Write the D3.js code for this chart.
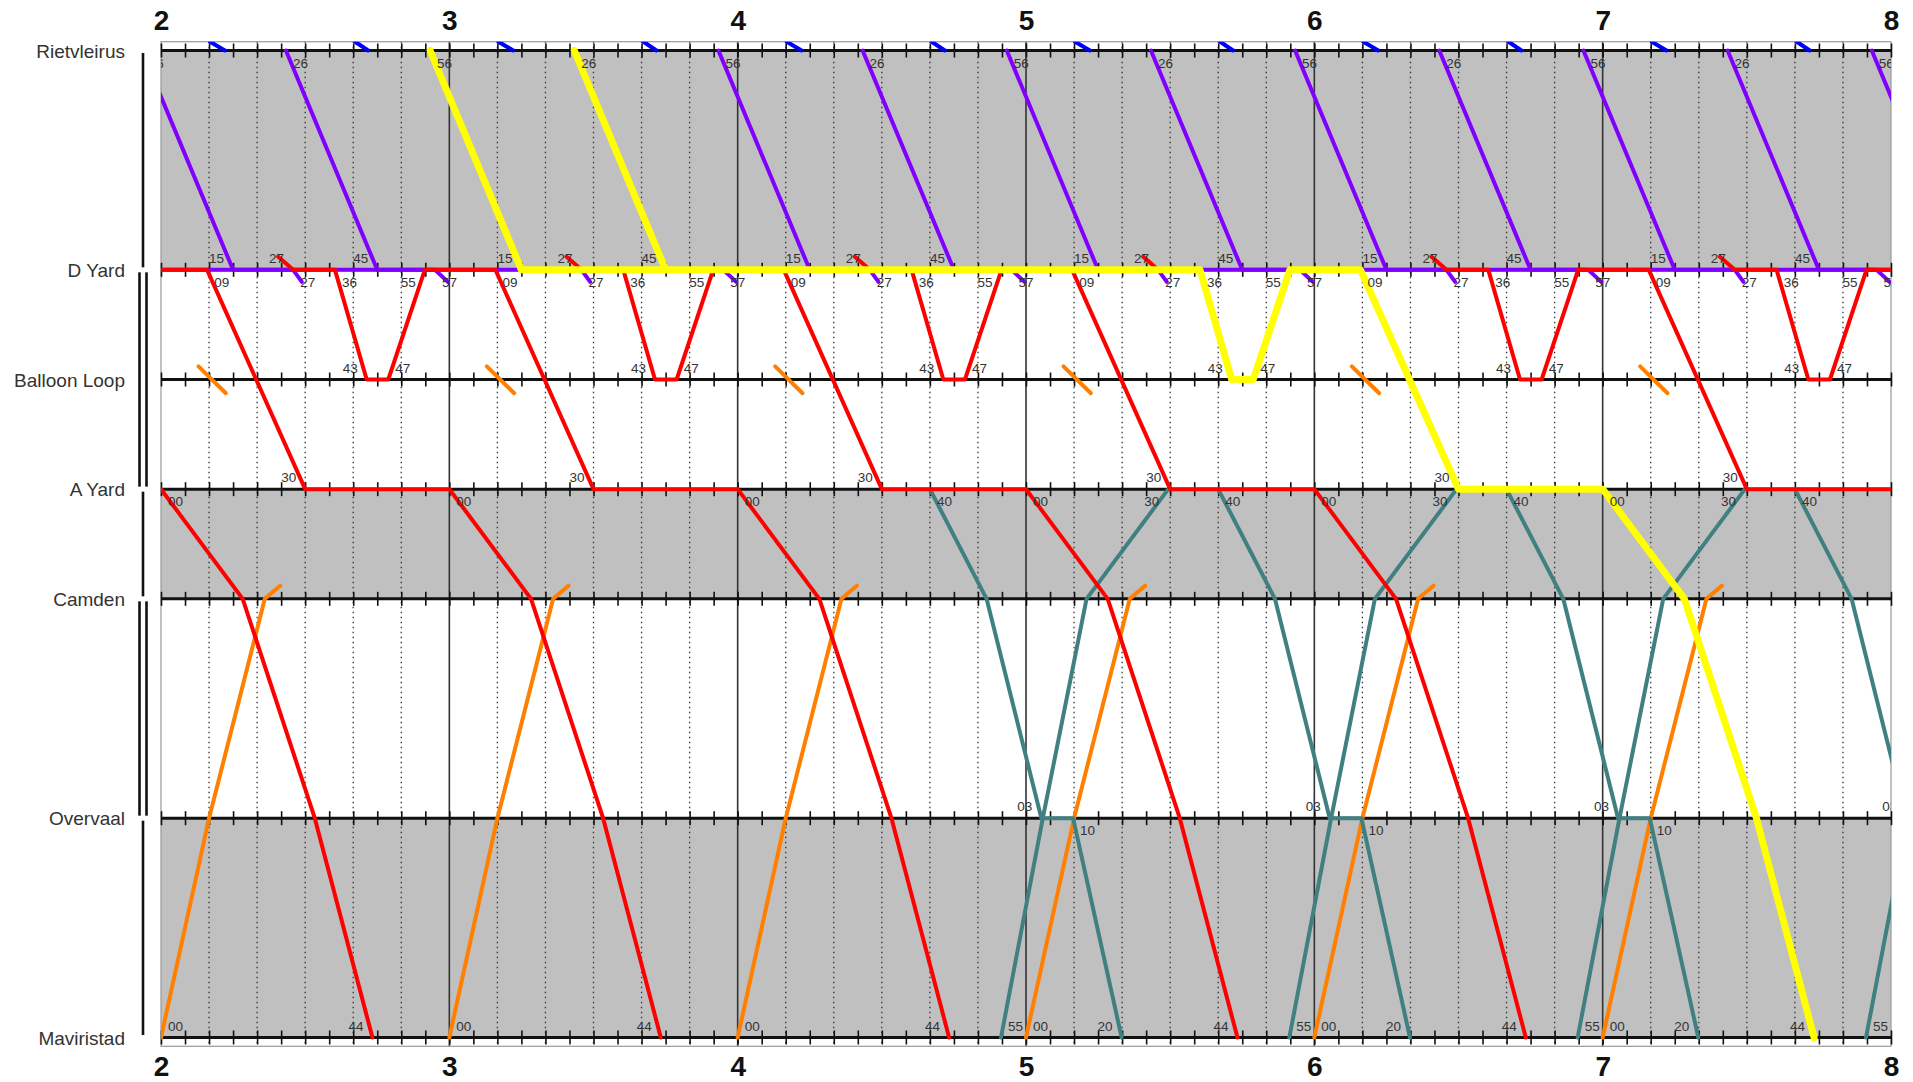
<!DOCTYPE html>
<html>
<head>
<meta charset="utf-8">
<script src="https://cdn.jsdelivr.net/npm/d3@7"></script>
<style>
  body { margin: 0; background: #fff; font-family: "Liberation Sans", Arial, sans-serif; }
</style>
</head>
<body>
<script>
// ---- data ----
var hours = [2, 3, 4, 5, 6, 7, 8];
var stationNames = ['Rietvleirus', 'D Yard', 'Balloon Loop', 'A Yard', 'Camden', 'Overvaal', 'Maviristad'];
var stationKm = [0, 2, 3, 4, 5, 7, 9];

// track sections (km from / to, number of tracks)
var sectionFrom = [0, 2, 4, 5, 7];
var sectionTo = [2, 4, 5, 7, 9];
var sectionTracks = [1, 2, 1, 2, 1];

// train runs: [minutes past the base hour, km], repeated for each base hour
var purpleRunA = [[-4, 0], [15, 2], [57, 2], [59.7, 2.11]];
var purpleRunB = [[26, 0], [45, 2], [87.5, 2], [89.3, 2.11]];
var purpleHoursA = [2, 3, 4, 5, 6, 7, 8];
var purpleHoursB = [1, 2, 3, 4, 5, 6, 7];
var purpleLabelsA = [[0, '56'], [1, '15'], [2, '57']];
var purpleLabelsB = [[0, '26'], [1, '45'], [2, '27']];

var redRun = [[24.4, 1.88], [27.5, 2], [36.2, 2], [42.8, 3], [47.3, 3], [54.9, 2], [69.6, 2],
              [90, 4], [120, 4], [137, 5], [152, 7], [164, 9]];
var redHours = [0, 1, 2, 3, 4, 5, 6, 7];
var redLabels = [[1, '27'], [2, '36'], [3, '43'], [4, '47'], [5, '55'], [6, '09'], [7, '30'], [8, '00'], [11, '44']];

var orangeRun = [[0, 9], [10, 7], [21.6, 5], [24.8, 4.88]];
var orangeLoopStub = [[7.8, 2.88], [13.5, 3.125]];
var orangeHours = [2, 3, 4, 5, 6, 7];
var orangeLabels = [[0, '00']];

var blueStubA = [[10.2, -0.08], [13.3, 0]];
var blueStubB = [[40.4, -0.08], [43.1, 0]];
var blueHours = [2, 3, 4, 5, 6, 7];

var tealDown = [[40, 4], [51.8, 5], [63.2, 7], [69.8, 7], [79.9, 9]];
var tealUp = [[54.8, 9], [63.5, 7], [72.6, 5], [89.6, 4]];
var tealHours = [4, 5, 6, 7];
var tealDownLabels = [[0, '40'], [2, '03'], [3, '10'], [4, '20']];
var tealUpLabels = [[0, '55'], [3, '30']];

// highlighted path, absolute minutes
var yellowRunA = [[176, 0], [195, 2], [336.2, 2], [342.8, 3], [347.3, 3], [354.9, 2], [369.6, 2],
                  [390, 4], [420, 4], [437, 5], [452, 7], [464, 9]];
var yellowRunB = [[206, 0], [225, 2]];

// ---- chart ----
var W = 1913, H = 1082;
var x = d3.scaleLinear().domain([hours[0] * 60, hours[hours.length - 1] * 60]).range([161, 1891]);
var y = d3.scaleLinear().domain([0, 9]).range([50.5, 1037.5]);
var t0 = x.domain()[0], t1 = x.domain()[1];
var plotTop = y(-0.08), plotBottom = y(9.08);

var svg = d3.select('body').append('svg')
  .attr('width', W)
  .attr('height', H);

svg.append('defs').append('clipPath')
  .attr('id', 'plot')
  .append('rect')
  .attr('x', x(t0)).attr('y', plotTop)
  .attr('width', x(t1) - x(t0)).attr('height', plotBottom - plotTop);

var sections = sectionFrom.map(function(f, i) {
  return {from: f, to: sectionTo[i], tracks: sectionTracks[i]};
});

// shaded single track sections
svg.append('g').selectAll('rect')
  .data(sections.filter(function(s) { return s.tracks == 1; }))
  .enter().append('rect')
  .attr('x', x(t0))
  .attr('width', x(t1) - x(t0))
  .attr('y', function(d) { return y(d.from); })
  .attr('height', function(d) { return y(d.to) - y(d.from); })
  .attr('fill', '#c0c0c0');

// 10 minute dotted lines
var tenMin = d3.range(t0, t1 + 1, 10).filter(function(m) { return m % 60 != 0; });
svg.append('g').selectAll('line')
  .data(tenMin)
  .enter().append('line')
  .attr('x1', function(d) { return x(d); }).attr('x2', function(d) { return x(d); })
  .attr('y1', plotTop).attr('y2', plotBottom)
  .attr('stroke', '#333').attr('stroke-width', 1.3)
  .attr('stroke-dasharray', '1.5,3.5');

// hour lines
svg.append('g').selectAll('line')
  .data(hours.slice(1, -1))
  .enter().append('line')
  .attr('x1', function(d) { return x(d * 60); }).attr('x2', function(d) { return x(d * 60); })
  .attr('y1', plotTop).attr('y2', plotBottom)
  .attr('stroke', '#333').attr('stroke-width', 1.6);

// plot border
svg.append('rect')
  .attr('x', x(t0)).attr('y', plotTop)
  .attr('width', x(t1) - x(t0)).attr('height', plotBottom - plotTop)
  .attr('fill', 'none').attr('stroke', '#999').attr('stroke-width', 1.2);

// station lines + 5 minute ticks
var fiveMin = d3.range(t0, t1 + 1, 5);
stationKm.forEach(function(km) {
  svg.append('line')
    .attr('x1', x(t0)).attr('x2', x(t1))
    .attr('y1', y(km)).attr('y2', y(km))
    .attr('stroke', '#111').attr('stroke-width', 3);
  svg.append('g')
    .attr('transform', 'translate(0,' + (y(km) - 7) + ')')
    .call(d3.axisBottom(x).tickValues(fiveMin).tickSize(14).tickFormat(''))
    .call(function(g) {
      g.select('.domain').remove();
      g.selectAll('text').remove();
    })
    .selectAll('line')
    .attr('stroke', '#111').attr('stroke-width', 1.6);
});

// station names
svg.append('g').selectAll('text')
  .data(stationNames)
  .enter().append('text')
  .attr('x', 125)
  .attr('y', function(d, i) { return y(stationKm[i]) + 7; })
  .attr('text-anchor', 'end')
  .style('font-size', '19px')
  .style('fill', '#333')
  .text(function(d) { return d; });

// track brackets
var bracket = svg.append('g').attr('stroke', '#111').attr('stroke-width', 2.6);
sections.forEach(function(s) {
  var offs = s.tracks == 1 ? [143] : [139.5, 146.5];
  offs.forEach(function(xx) {
    bracket.append('line')
      .attr('x1', xx).attr('x2', xx)
      .attr('y1', y(s.from) + 2.5).attr('y2', y(s.to) - 2.5);
  });
});

// hour labels
var hourTicks = hours.map(function(h) { return h * 60; });
svg.append('g')
  .attr('transform', 'translate(0,30)')
  .call(d3.axisTop(x).tickValues(hourTicks)
    .tickSize(0).tickPadding(0).tickFormat(function(m) { return m / 60; }))
  .call(function(g) { g.select('.domain').remove(); })
  .selectAll('text')
  .style('font-size', '28px').style('font-weight', 'bold')
  .style('font-family', '"Liberation Sans", Arial, sans-serif').style('fill', '#111');

svg.append('g')
  .attr('transform', 'translate(0,1056)')
  .call(d3.axisBottom(x).tickValues(hourTicks)
    .tickSize(0).tickPadding(0).tickFormat(function(m) { return m / 60; }))
  .call(function(g) { g.select('.domain').remove(); })
  .selectAll('text')
  .style('font-size', '28px').style('font-weight', 'bold')
  .style('font-family', '"Liberation Sans", Arial, sans-serif').style('fill', '#111');

// ---- trains ----
var trains = svg.append('g').attr('clip-path', 'url(#plot)');
var labels = svg.append('g').attr('clip-path', 'url(#plot)');
var line = d3.line()
  .x(function(d) { return x(d[0]); })
  .y(function(d) { return y(d[1]); });

function shift(run, h) {
  return run.map(function(p) { return [h * 60 + p[0], p[1]]; });
}

function drawRuns(run, baseHours, color, width, runLabels) {
  var paths = baseHours.map(function(h) { return shift(run, h); });
  trains.append('g').selectAll('path')
    .data(paths)
    .enter().append('path')
    .attr('d', line)
    .attr('fill', 'none')
    .attr('stroke', color)
    .attr('stroke-width', width)
    .attr('stroke-linecap', 'round')
    .attr('stroke-linejoin', 'round');
  if (!runLabels) return;
  var items = [];
  paths.forEach(function(p) {
    runLabels.forEach(function(l) {
      var i = l[0], pt = p[i];
      var dep = i < p.length - 1 && p[i + 1][1] != pt[1];
      var other = dep ? p[i + 1] : p[i - 1];
      var below = other[1] > pt[1];
      // skip labels that would fall wholly outside the plot
      if (dep && (pt[0] < t0 - 5 || pt[0] > t1)) return;
      if (!dep && (pt[0] < t0 + 2 || pt[0] > t1 + 5)) return;
      items.push({t: pt[0], km: pt[1], text: l[1], dep: dep, below: below});
    });
  });
  labels.append('g').selectAll('text')
    .data(items)
    .enter().append('text')
    .attr('x', function(d) { return x(d.t) + (d.dep ? 7 : -9); })
    .attr('y', function(d) { return y(d.km) + (d.below ? 17 : -7); })
    .attr('text-anchor', function(d) { return d.dep ? 'start' : 'end'; })
    .style('font-size', '13.5px')
    .style('fill', '#333')
    .text(function(d) { return d.text; });
}

drawRuns(purpleRunA, purpleHoursA, '#8000ff', 4, purpleLabelsA);
drawRuns(purpleRunB, purpleHoursB, '#8000ff', 4, purpleLabelsB);
drawRuns(blueStubA, blueHours, '#0000ff', 4);
drawRuns(blueStubB, blueHours, '#0000ff', 4);
drawRuns(orangeRun, orangeHours, '#ff8000', 4, orangeLabels);
drawRuns(orangeLoopStub, orangeHours, '#ff8000', 4);
drawRuns(tealDown, tealHours, '#408080', 4, tealDownLabels);
drawRuns(tealUp, tealHours, '#408080', 4, tealUpLabels);
drawRuns(redRun, redHours, '#ff0000', 4, redLabels);
drawRuns(yellowRunA, [0], '#ffff00', 7);
drawRuns(yellowRunB, [0], '#ffff00', 7);
</script>
</body>
</html>
